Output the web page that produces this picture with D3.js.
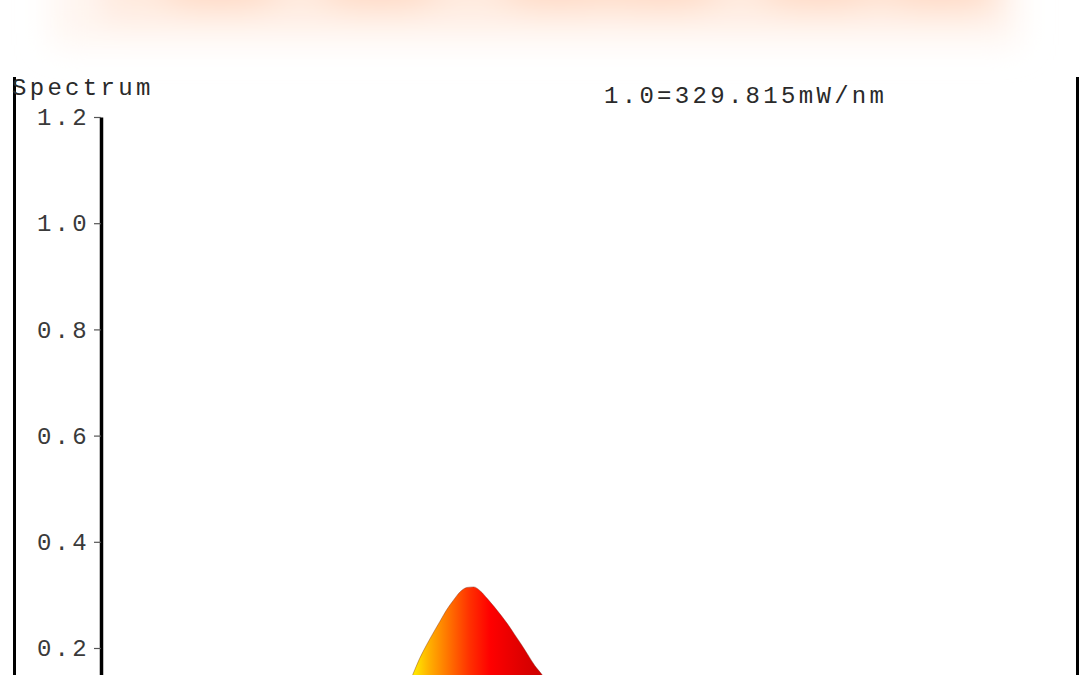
<!DOCTYPE html>
<html>
<head>
<meta charset="utf-8">
<script src="https://cdn.jsdelivr.net/npm/d3@7"></script>
<style>
  html, body { margin: 0; padding: 0; background: #fff; overflow: hidden; }
  svg { display: block; }
  .mono { font-family: "Liberation Mono", "DejaVu Sans Mono", monospace; }
</style>
</head>
<body>
<svg id="chart" width="1080" height="675"></svg>
<script>
// Spectrum samples (wavelength in nm, relative power)
const wavelengths = [540, 550, 560, 565, 570, 575, 580, 585, 590, 595, 600, 605, 610, 615, 620,
  625, 630, 635, 640, 645, 650, 655, 660, 665, 670, 675, 680, 690, 700, 710, 720, 740];
const power = [0.005, 0.015, 0.04, 0.065, 0.09, 0.12, 0.15, 0.18, 0.205, 0.228, 0.25, 0.272, 0.29, 0.306, 0.314,
  0.315, 0.307, 0.293, 0.278, 0.262, 0.245, 0.226, 0.207, 0.187, 0.167, 0.151, 0.133, 0.095, 0.065, 0.04, 0.02, 0.005];

// Y axis ticks and labels
const yTicks = [0.2, 0.4, 0.6, 0.8, 1.0, 1.2];
const yTitle = "Spectrum";
const scaleNote = "1.0=329.815mW/nm";

// Colour of the fill by wavelength
const stopWavelengths = [575, 580, 592, 607, 622, 637, 659, 676, 700];
const stopColors = ["#ffff00", "#ffee00", "#ffb000", "#ff7000", "#ff3000", "#ff0000", "#e00000", "#cc0000", "#b80000"];

const width = 1080;
const height = 675;

const svg = d3.select("#chart");

const x = d3.scaleLinear().domain([350, 1070]).range([101, 1077]);
const y = d3.scaleLinear().domain([0, 1.2]).range([754.2, 117]);

// Blurred header band at the top
const defs = svg.append("defs");
defs.append("filter").attr("id", "blur")
  .attr("x", "-20%").attr("y", "-200%").attr("width", "140%").attr("height", "500%")
  .append("feGaussianBlur").attr("stdDeviation", 16);

const band = svg.append("g").attr("filter", "url(#blur)");
band.append("rect")
  .attr("x", 50).attr("y", -40).attr("width", 970).attr("height", 85)
  .attr("fill", "#fff6f1");
band.append("rect")
  .attr("x", 100).attr("y", -40).attr("width", 900).attr("height", 60)
  .attr("fill", "#ffeade");
[220, 380, 560, 660, 820, 940].forEach(cx => {
  band.append("ellipse")
    .attr("cx", cx).attr("cy", -10).attr("rx", 60).attr("ry", 16)
    .attr("fill", "#ffcfb4").attr("opacity", 0.7);
});

// Gradient along the wavelength axis
const grad = defs.append("linearGradient")
  .attr("id", "spec")
  .attr("gradientUnits", "userSpaceOnUse")
  .attr("x1", x(stopWavelengths[0])).attr("x2", x(stopWavelengths[stopWavelengths.length - 1]))
  .attr("y1", 0).attr("y2", 0);
const w0 = stopWavelengths[0], w1 = stopWavelengths[stopWavelengths.length - 1];
grad.selectAll("stop")
  .data(stopWavelengths)
  .enter().append("stop")
  .attr("offset", d => (d - w0) / (w1 - w0))
  .attr("stop-color", (d, i) => stopColors[i]);

const points = wavelengths.map((w, i) => [w, power[i]]);

const area = d3.area()
  .x(d => x(d[0]))
  .y0(y(0))
  .y1(d => y(d[1]))
  .curve(d3.curveMonotoneX);

const line = d3.line()
  .x(d => x(d[0]))
  .y(d => y(d[1]))
  .curve(d3.curveMonotoneX);

svg.append("path")
  .datum(points)
  .attr("d", area)
  .attr("fill", "url(#spec)");

svg.append("path")
  .datum(points)
  .attr("d", line)
  .attr("fill", "none")
  .attr("stroke", "#7a2a1a")
  .attr("stroke-opacity", 0.4)
  .attr("stroke-width", 1);

// Frame lines left and right
svg.append("line")
  .attr("x1", 14.5).attr("x2", 14.5).attr("y1", 77).attr("y2", height)
  .attr("stroke", "#000").attr("stroke-width", 3);
svg.append("line")
  .attr("x1", 1077.5).attr("x2", 1077.5).attr("y1", 77).attr("y2", height)
  .attr("stroke", "#000").attr("stroke-width", 3);

// Y axis
const yAxis = d3.axisLeft(y)
  .tickValues(yTicks)
  .tickSize(7)
  .tickSizeOuter(0)
  .tickFormat(d3.format(".1f"));

const gy = svg.append("g")
  .attr("transform", "translate(101,0)")
  .call(yAxis);

gy.select(".domain")
  .attr("stroke", "#000")
  .attr("stroke-width", 3.5);
gy.selectAll(".tick line")
  .attr("stroke", "#555")
  .attr("stroke-width", 1.2);
gy.selectAll(".tick text")
  .attr("class", "mono")
  .attr("x", -11)
  .attr("fill", "#3a3a3a")
  .style("font-size", "24px")
  .style("letter-spacing", "3.3px");

svg.append("text")
  .attr("class", "mono")
  .attr("x", 12).attr("y", 95)
  .attr("fill", "#2a2a2a")
  .style("font-size", "24px")
  .style("letter-spacing", "3.3px")
  .text(yTitle);

svg.append("text")
  .attr("class", "mono")
  .attr("x", 604).attr("y", 103)
  .attr("fill", "#2a2a2a")
  .style("font-size", "24px")
  .style("letter-spacing", "3.3px")
  .text(scaleNote);
</script>
</body>
</html>
